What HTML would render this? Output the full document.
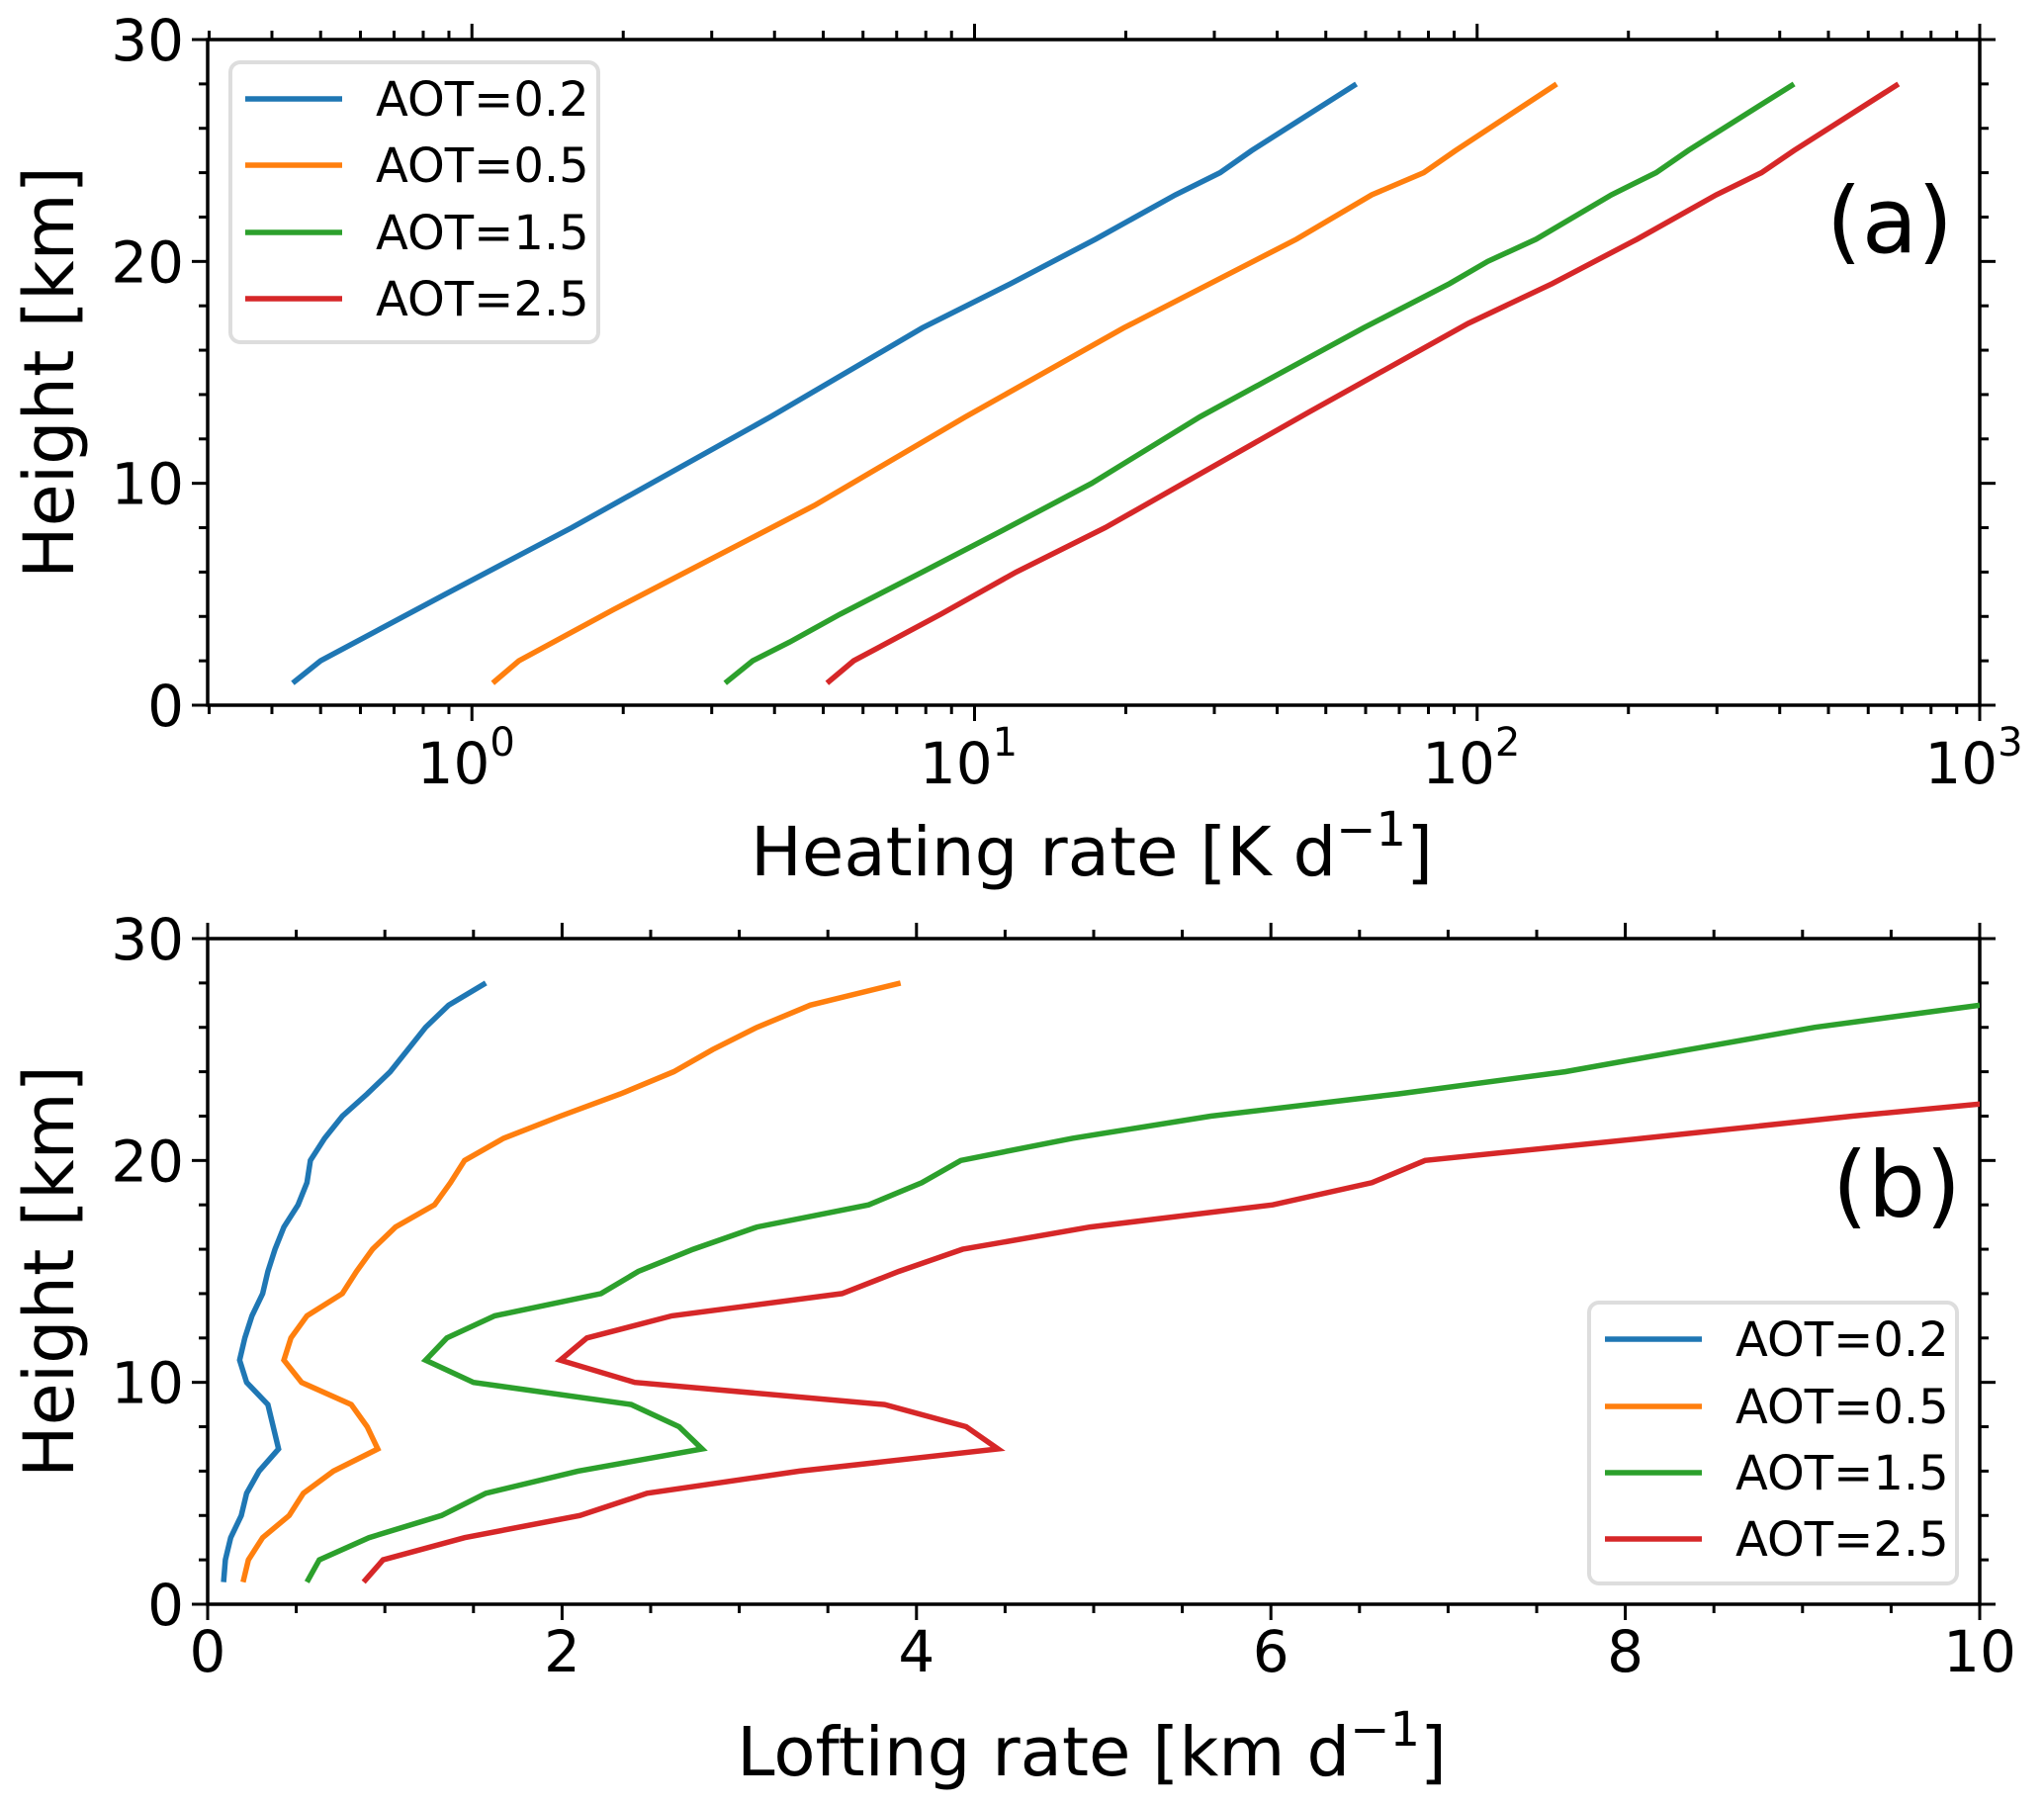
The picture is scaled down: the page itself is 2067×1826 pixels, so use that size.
<!DOCTYPE html>
<html><head><meta charset="utf-8"><style>
html,body{margin:0;padding:0;background:#fff;}
svg{display:block;font-family:"DejaVu Sans","Liberation Sans",sans-serif;}
</style></head><body>
<svg id="fig" width="2067" height="1826" viewBox="0 0 2067 1826" xmlns="http://www.w3.org/2000/svg">
<rect width="2067" height="1826" fill="#fff"/>
<g id="pa"></g>
<g id="pb"></g>
</svg>
<script>
// ---- data ----
const seriesNames = ["AOT=0.2","AOT=0.5","AOT=1.5","AOT=2.5"];
const colors = ["#1f77b4","#ff7f0e","#2ca02c","#d62728"];
// Panel (a): heating rate [K/d] vs height [km]
const aH0 = [1,2,5,8,13,17,19,21,23,24,25,28];
const aV0 = [0.44,0.50,0.885,1.58,3.93,7.87,11.8,17.4,25.1,30.8,35.6,57.5];
const aH1 = [1,2,4.3,9,13,17,21,23,24,25,28];
const aV1 = [1.10,1.24,1.91,4.8,9.6,19.8,43.7,61.7,78.3,90.6,144];
const aH2 = [1,2,2.85,4.1,6,7.75,10,13,17,19,20,21,23,24,25,28];
const aV2 = [3.19,3.62,4.29,5.4,7.87,11.1,17.1,28.1,59.4,88.1,105,131,185,227,263,427];
const aH3 = [1,2,4.1,6,8,13.2,17.2,19,21,23,24,25,28];
const aV3 = [5.09,5.75,8.57,12.1,18.2,46.2,95.9,141,208,299,368,427,689];
// Panel (b): lofting rate [km/d] vs height
const bH = [1,2,3,4,5,6,7,8,9,10,11,12,13,14,15,16,17,18,19,20,21,22,23,24,25,26,27,28];
const bV0 = [0.09,0.10,0.13,0.19,0.22,0.29,0.40,0.37,0.34,0.22,0.18,0.21,0.25,0.31,0.34,0.38,0.43,0.51,0.56,0.58,0.66,0.76,0.90,1.03,1.13,1.23,1.36,1.57];
const bV1 = [0.20,0.23,0.31,0.46,0.54,0.71,0.96,0.90,0.81,0.53,0.43,0.47,0.56,0.76,0.84,0.93,1.06,1.28,1.37,1.45,1.67,1.99,2.33,2.63,2.85,3.10,3.40,3.91];
const bV2 = [0.56,0.63,0.91,1.32,1.57,2.09,2.79,2.66,2.39,1.50,1.23,1.35,1.62,2.22,2.43,2.74,3.10,3.73,4.03,4.25,4.88,5.66,6.72,7.66,8.36,9.07,10.0];
const bV3 = [0.88,0.99,1.45,2.10,2.48,3.34,4.46,4.28,3.82,2.41,1.99,2.14,2.62,3.58,3.90,4.26,4.98,6.01,6.57,6.87,8.10,9.28,10.6];
const yTicks = [0,10,20,30];
const bxTicks = [0,2,4,6,8,10];
const axDecades = [0,1,2,3];

const NS="http://www.w3.org/2000/svg";
function el(parent,tag,attrs){const e=document.createElementNS(NS,tag);for(const k in attrs)e.setAttribute(k,attrs[k]);parent.appendChild(e);return e;}

const L=210,R=2002;
const A={top:40,bot:713}, B={top:949,bot:1622};
const axLogMin=Math.log10(0.298), axLogMax=3;
function xa(v){return L+(Math.log10(v)-axLogMin)/(axLogMax-axLogMin)*(R-L);}
function xb(v){return L+v/10*(R-L);}
function yA(h){return A.bot-h/30*(A.bot-A.top);}
function yB(h){return B.bot-h/30*(B.bot-B.top);}

function frame(g,P,yf){
  for(let h=0;h<=30;h+=2){
    const maj=h%10===0, len=maj?16:9, y=yf(h);
    let t=el(g,'line',{x1:L,x2:L-len,y1:y,y2:y,stroke:'#000','stroke-width':3});
    
    
    t=el(g,'line',{x1:R,x2:R+len,y1:y,y2:y,stroke:'#000','stroke-width':3});
    
    
  }
  yTicks.forEach(v=>{
    const t=el(g,'text',{x:L-24,y:yf(v)+21,'font-size':58,'text-anchor':'end'});
    t.textContent=v;
    
    
  });
  const r=el(g,'rect',{x:L,y:P.top,width:R-L,height:P.bot-P.top,fill:'none',stroke:'#000','stroke-width':3.5});
  
  
  const yl=el(g,'text',{x:0,y:0,'font-size':70,'text-anchor':'middle',transform:`translate(74,${(P.top+P.bot)/2}) rotate(-90)`});
  yl.textContent='Height [km]';
  
  
}
function xtick(g,x,P,maj){
  const len=maj?16:9;
  let t=el(g,'line',{x1:x,x2:x,y1:P.bot,y2:P.bot+len,stroke:'#000','stroke-width':3});
  
  
  t=el(g,'line',{x1:x,x2:x,y1:P.top,y2:P.top-len,stroke:'#000','stroke-width':3});
  
  
}
function line(g,xs,ys,xf,yf,c,name,clip){
  const pts=xs.map((v,i)=>xf(v).toFixed(1)+','+yf(ys[i]).toFixed(1)).join(' ');
  const p=el(g,'polyline',{points:pts,fill:'none',stroke:c,'stroke-width':5.5,'stroke-linejoin':'miter','clip-path':clip});
  
  
}
function legend(g,x,y,w,h,rowY,lx,tx){
  const bx=el(g,'rect',{x:x,y:y,width:w,height:h,rx:10,fill:'#fff','fill-opacity':0.8,stroke:'#ddd','stroke-width':4});
  
  
  seriesNames.forEach((n,i)=>{
    const ly=rowY[i];
    const l=el(g,'line',{x1:lx,x2:lx+98,y1:ly,y2:ly,stroke:colors[i],'stroke-width':5.5});
    
    
    const t=el(g,'text',{x:tx,y:ly+17,'font-size':48});
    t.textContent=n;
    
    
  });
}

const svg=document.getElementById('fig');
const defs=el(svg,'defs',{});
const ca=el(defs,'clipPath',{id:'ca'});el(ca,'rect',{x:L,y:A.top,width:R-L,height:A.bot-A.top});
const cb=el(defs,'clipPath',{id:'cb'});el(cb,'rect',{x:L,y:B.top,width:R-L,height:B.bot-B.top});

// Panel A
const ga=document.getElementById('pa');
frame(ga,A,yA);
axDecades.forEach(d=>{
  xtick(ga,xa(Math.pow(10,d)),A,true);
  const t=el(ga,'text',{x:xa(Math.pow(10,d))-6,y:792,'font-size':58,'text-anchor':'middle'});
  t.innerHTML='10<tspan dy="-28" font-size="40">'+d+'</tspan>';
  
  
});
for(let d=-1;d<3;d++)for(let m=2;m<=9;m++){const v=m*Math.pow(10,d);if(v>0.3&&v<1000)xtick(ga,xa(v),A,false);}
[[aV0,aH0],[aV1,aH1],[aV2,aH2],[aV3,aH3]].forEach((s,i)=>line(ga,s[0],s[1],xa,yA,colors[i],'series-a-'+i,'url(#ca)'));
legend(ga,233,63,372,283,[100,167,235,302],248,380);
let t=el(ga,'text',{x:1104,y:885,'font-size':69,'text-anchor':'middle'});
t.innerHTML='Heating rate [K d<tspan dy="-30" font-size="48">−1</tspan><tspan dy="30">]</tspan>';


t=el(ga,'text',{x:1911,y:255,'font-size':92,'text-anchor':'middle'});
t.textContent='(a)';



// Panel B
const gb=document.getElementById('pb');
frame(gb,B,yB);
for(let v=0;v<=10;v+=0.5)xtick(gb,xb(v),B,v%2===0);
bxTicks.forEach(v=>{
  const t=el(gb,'text',{x:xb(v),y:1690,'font-size':58,'text-anchor':'middle'});
  t.textContent=v;
  
  
});
[bV0,bV1,bV2,bV3].forEach((s,i)=>line(gb,s,bH.slice(0,s.length),xb,yB,colors[i],'series-b-'+i,'url(#cb)'));
legend(gb,1607,1317,372,284,[1354,1422,1489,1556],1623,1755);
t=el(gb,'text',{x:1104,y:1795,'font-size':69,'text-anchor':'middle'});
t.innerHTML='Lofting rate [km d<tspan dy="-30" font-size="48">−1</tspan><tspan dy="30">]</tspan>';


t=el(gb,'text',{x:1918,y:1230,'font-size':92,'text-anchor':'middle'});
t.textContent='(b)';


</script>
</body></html>
